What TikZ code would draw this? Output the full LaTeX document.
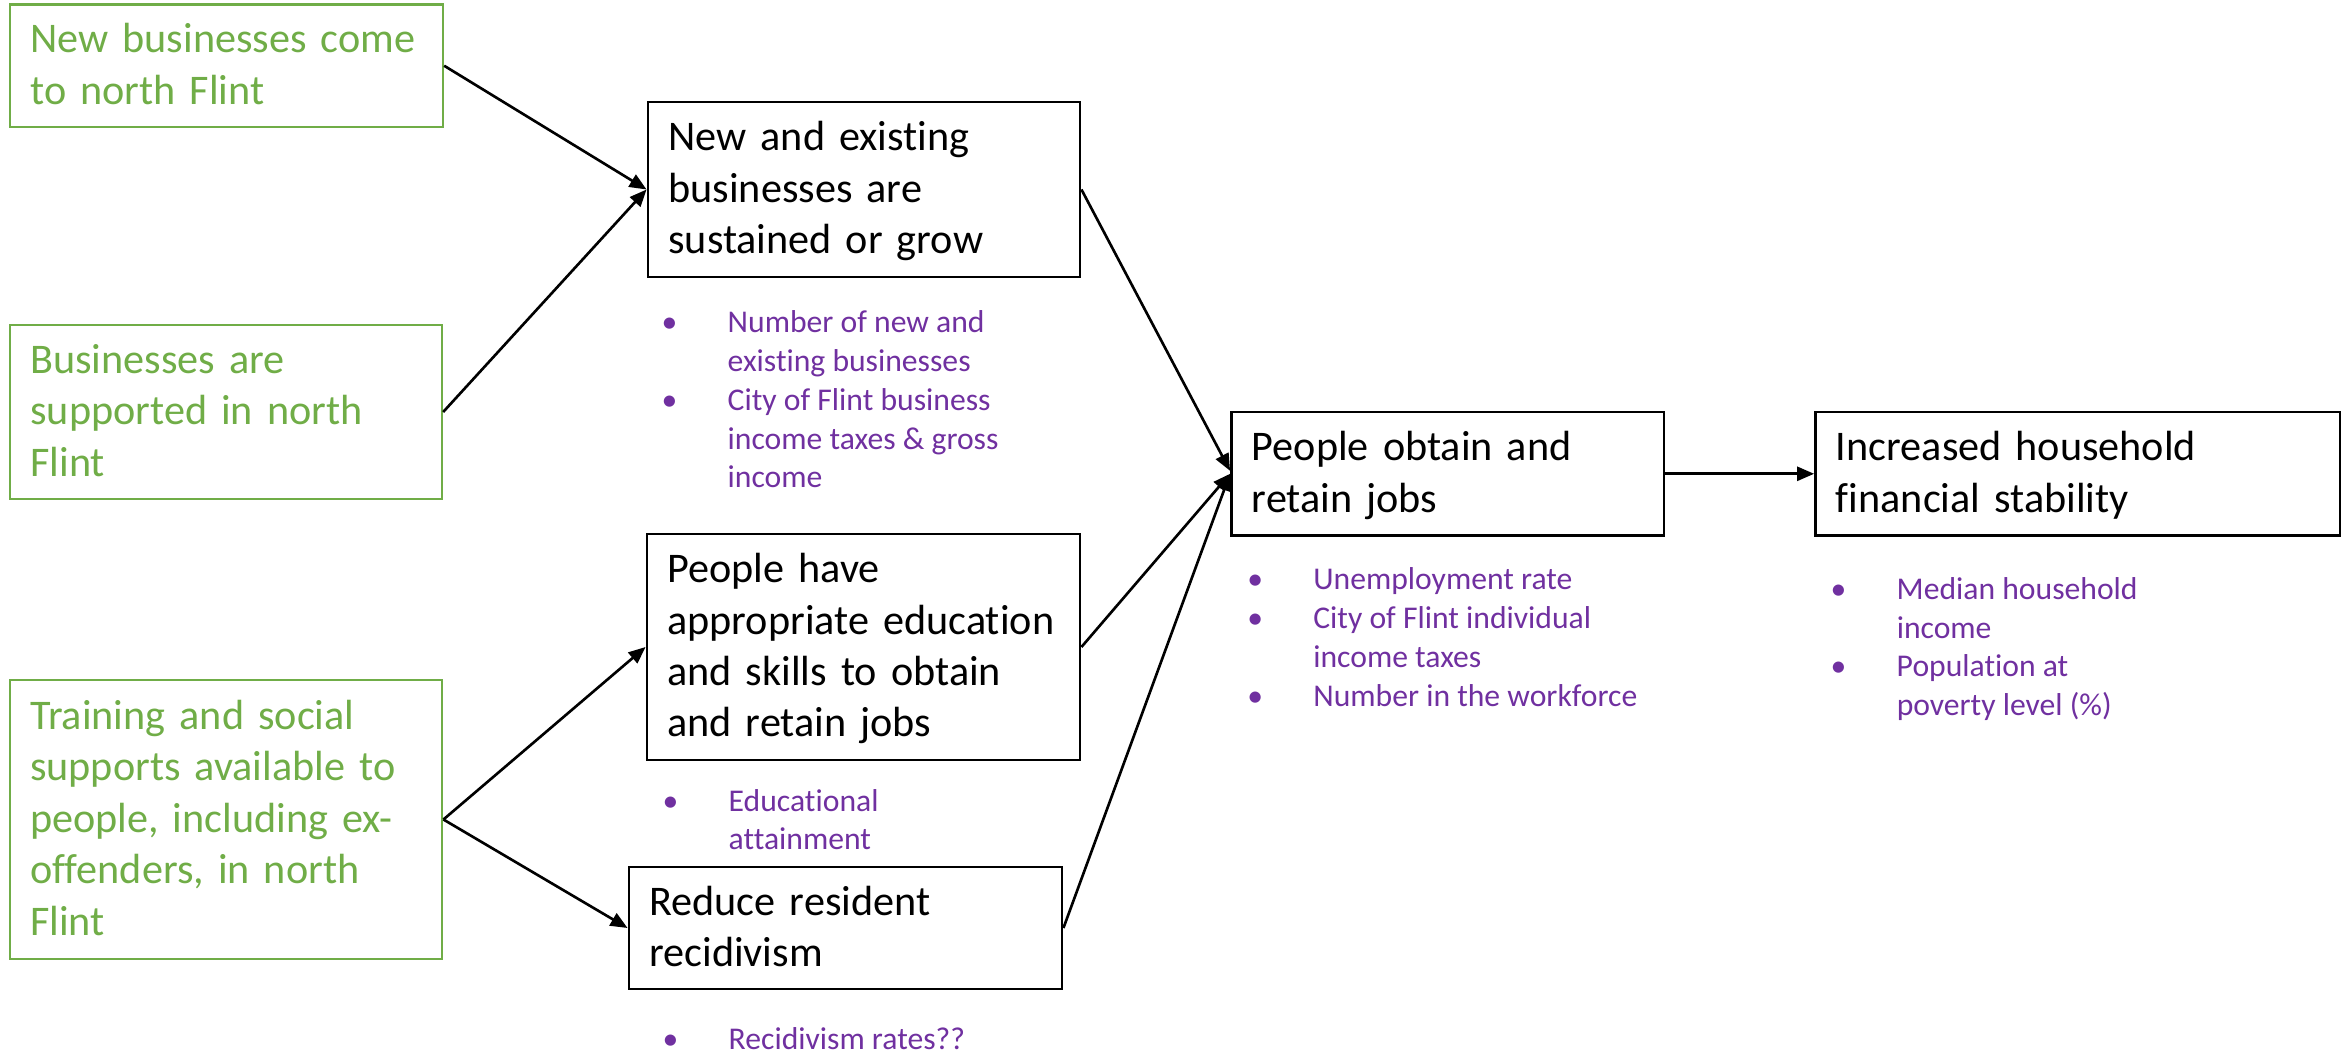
\documentclass[tikz,border=0pt]{standalone}
\usepackage{fontspec}
\setmainfont{Carlito}[Ligatures=NoCommon]
\usetikzlibrary{arrows.meta, positioning}
\definecolor{ogreen}{HTML}{70AD47}
\definecolor{opurple}{HTML}{7030A0}
\newcommand{\boxstrut}{\rule[-0.25\baselineskip]{0pt}{\baselineskip}}

\tikzset{
    outcome/.style={draw=black, line width=0.75pt, rectangle, align=left,
        inner xsep=0.205cm, inner ysep=0pt, font=\fontsize{12pt}{14.6pt}\selectfont,
        execute at begin node=\boxstrut, execute at end node=\boxstrut},
    input/.style={outcome, draw=ogreen, text=ogreen, line width=0.6pt},
    indic/.style={text=opurple, inner sep=0pt, anchor=base west,
        font=\fontsize{9pt}{11pt}\selectfont},
    link/.style={line width=0.75pt, -{Triangle[length=0.17cm,width=0.14cm]}}
}

\begin{document}
\begin{tikzpicture}[x=0.01cm, y=-0.01cm]
    \useasboundingbox (0,0) rectangle (2341,1055);

    % Inputs
    \node[input, text width=3.92cm, minimum height=1.225cm] (nbc) at (226.5,65.75)
        {New businesses come\\to north Flint};
    \node[input, text width=3.91cm, minimum height=1.74cm] (bas) at (226,412)
        {Businesses are\\supported in north\\Flint};
    \node[input, text width=3.915cm, minimum height=2.78cm] (tss) at (226,819.5)
        {Training and social\\supports available to\\people, including ex-\\offenders, in north\\Flint};

    % Short term outcomes
    \node[outcome, text width=3.91cm, minimum height=1.75cm] (neb) at (864,189.5)
        {New and existing\\businesses are\\sustained or grow};
    \node[outcome, text width=3.92cm, minimum height=2.26cm] (pha) at (863.5,647)
        {People have\\appropriate education\\and skills to obtain\\and retain jobs};
    \node[outcome, text width=3.92cm, minimum height=1.22cm] (rrr) at (845.5,928)
        {Reduce resident\\recidivism};

    % Longer term outcomes
    \node[outcome, text width=3.915cm, minimum height=1.236cm] (poj) at (1447.75,473.8)
        {People obtain and\\retain jobs};
    \node[outcome, text width=4.834cm, minimum height=1.236cm] (ihf) at (2077.8,473.8)
        {Increased household\\financial stability};

    % Indicators
    \node[indic] (indne) at (661,333) {\begin{tabular}[t]{@{}p{0.66cm}@{}l@{}}
        •&Number of new and\\&existing businesses\\
        •&City of Flint business\\&income taxes \& gross\\&income\end{tabular}};
    \node[indic] (indph) at (662,811) {\begin{tabular}[t]{@{}p{0.66cm}@{}l@{}}
        •&Educational\\&attainment\end{tabular}};
    \node[indic] (indrr) at (662,1050) {\begin{tabular}[t]{@{}p{0.66cm}@{}l@{}}
        •&Recidivism rates??\end{tabular}};
    \node[indic] (indpo) at (1246.6,590) {\begin{tabular}[t]{@{}p{0.66cm}@{}l@{}}
        •&Unemployment rate\\
        •&City of Flint individual\\&income taxes\\
        •&Number in the workforce\end{tabular}};
    \node[indic] (indih) at (1830,599.5) {\begin{tabular}[t]{@{}p{0.66cm}@{}l@{}}
        •&Median household\\&income\\
        •&Population at\\&poverty level (\%)\end{tabular}};

    % Links
    \draw[link] (nbc.east) -- (neb.west);
    \draw[link] (bas.east) -- (neb.west);
    \draw[link] (tss.east) -- (pha.west);
    \draw[link] (tss.east) -- (rrr.west);
    \draw[link] (neb.east) -- ([yshift=0.03cm]poj.west);
    \draw[link] (pha.east) -- (poj.west);
    \draw[link] (rrr.east) -- (poj.west);
    \draw[link] (poj.east) -- (ihf.west);
\end{tikzpicture}
\end{document}
